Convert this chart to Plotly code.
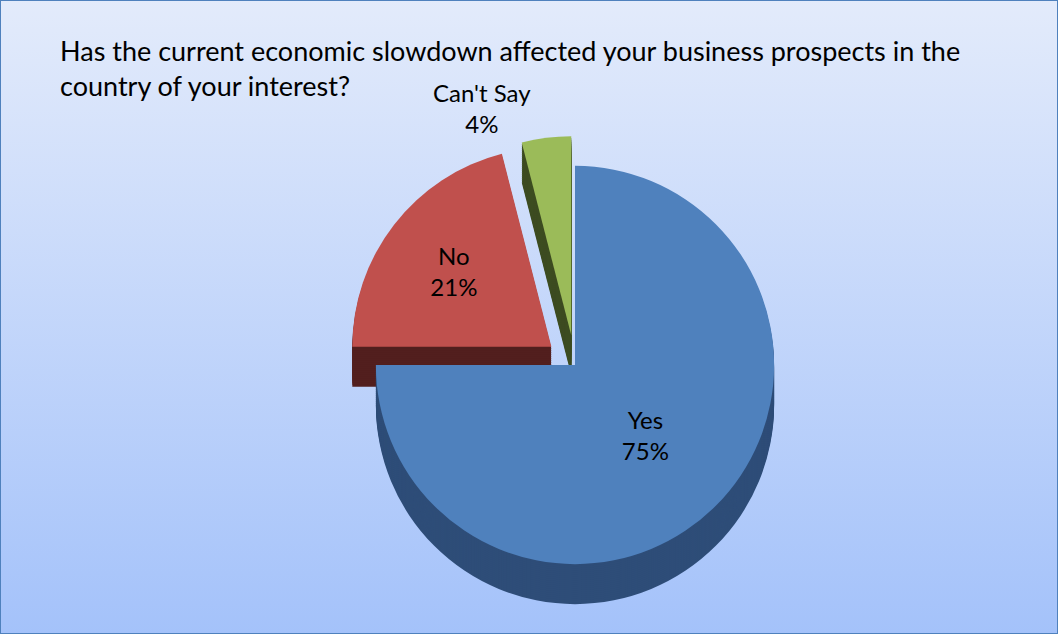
import base64
import plotly.graph_objects as go

# Survey answers and their shares
labels = ["Yes", "No", "Can't Say"]
values = [75, 21, 4]
pulls = [0, 0.15, 0.15]
top_colors = ["#4f81bd", "#c0504d", "#9bbb59"]
side_colors = ["#2e4d78", "#521f1e", "#3d4c21"]

title_text = ("Has the current economic slowdown affected your business prospects in the"
              "<br>country of your interest?")

W, H = 1058, 634
FONT = "Lato, 'Open Sans', Arial, sans-serif"

# Pie box (pixels, from top-left) and extrusion depth
box_x0, box_x1 = 346, 804
box_top, box_bottom = 136, 594
depth = 40
layers = 20


def ydom(top_px, bottom_px):
    return [max(0.0, 1 - bottom_px / H), min(1.0, 1 - top_px / H)]


fig = go.Figure()

# Side walls: stacked copies of the pie, shifted downward
for i in range(layers, 0, -1):
    off = depth * i / layers
    fig.add_trace(go.Pie(
        labels=labels, values=values, pull=pulls, sort=False,
        direction="clockwise", rotation=0,
        marker=dict(colors=side_colors, line=dict(width=0)),
        textinfo="none", hoverinfo="skip", showlegend=False,
        domain=dict(x=[box_x0 / W, box_x1 / W],
                    y=ydom(box_top + off, box_bottom + off)),
    ))

# Top face with labels
fig.add_trace(go.Pie(
    labels=labels, values=values, pull=pulls, sort=False,
    direction="clockwise", rotation=0,
    marker=dict(colors=top_colors, line=dict(width=0)),
    texttemplate="%{label}<br>%{percent:.0%}",
    textposition=["inside", "inside", "outside"],
    insidetextorientation="horizontal",
    textfont=dict(family=FONT, size=24, color="black"),
    showlegend=False,
    domain=dict(x=[box_x0 / W, box_x1 / W], y=ydom(box_top, box_bottom)),
))

# Vertical gradient background
svg = (
    '<svg xmlns="http://www.w3.org/2000/svg" width="100" height="100" preserveAspectRatio="none">'
    '<defs><linearGradient id="g" x1="0" y1="0" x2="0" y2="1">'
    '<stop offset="0" stop-color="#e3ebfb"/><stop offset="1" stop-color="#a4c2fa"/>'
    '</linearGradient></defs><rect width="100" height="100" fill="url(#g)"/></svg>'
)
bg_src = "data:image/svg+xml;base64," + base64.b64encode(svg.encode()).decode()

fig.update_layout(
    width=W, height=H,
    margin=dict(l=0, r=0, t=0, b=0, autoexpand=False),
    paper_bgcolor="#c4d7fa",
    showlegend=False,
    annotations=[dict(text=title_text, xref="paper", yref="paper",
                      x=58 / W, y=1 - 32 / H, xanchor="left", yanchor="top",
                      align="left", showarrow=False,
                      font=dict(family=FONT, size=27, color="black"))],
    images=[dict(source=bg_src, xref="paper", yref="paper", x=0, y=1,
                 sizex=1, sizey=1, xanchor="left", yanchor="top",
                 sizing="stretch", layer="below")],
    shapes=[dict(type="rect", xref="paper", yref="paper", x0=0, y0=0, x1=1, y1=1,
                 line=dict(color="#4f81bd", width=2), fillcolor="rgba(0,0,0,0)")],
)

fig.write_html("out.html")
